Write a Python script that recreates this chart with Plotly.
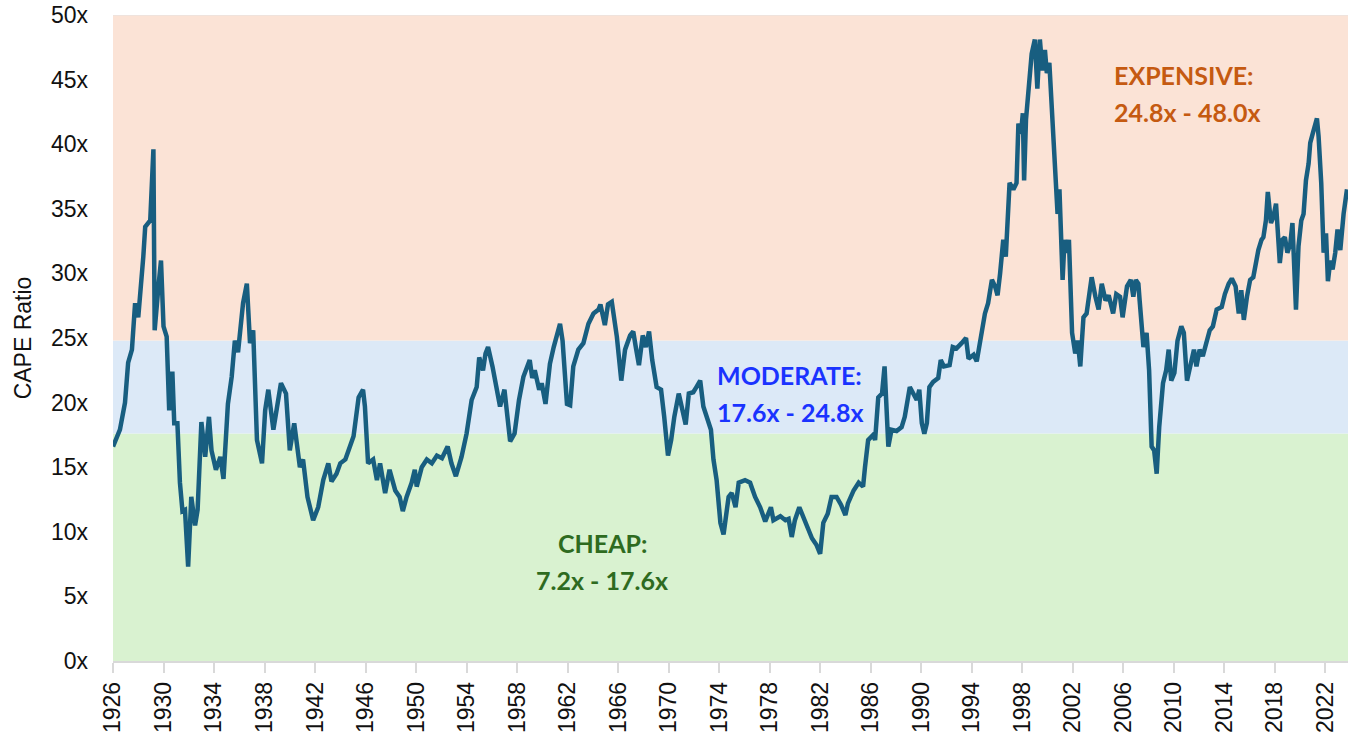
import plotly.graph_objects as go

# ---- data (decimal year, CAPE ratio) ----
years = [
    1926.0, 1926.3, 1926.55, 1926.95, 1927.2, 1927.5, 1927.75, 1928.0, 1928.3, 1928.4,
    1928.55, 1928.95, 1929.2, 1929.3, 1929.6, 1929.8, 1930.0, 1930.25, 1930.45, 1930.7,
    1930.85, 1931.1, 1931.3, 1931.5, 1931.7, 1931.95, 1932.2, 1932.5, 1932.7, 1933.0,
    1933.3, 1933.6, 1933.8, 1934.15, 1934.5, 1934.75, 1935.1, 1935.4, 1935.65, 1935.9,
    1936.3, 1936.6, 1936.85, 1937.1, 1937.4, 1937.8, 1938.05, 1938.3, 1938.7, 1938.95,
    1939.3, 1939.7, 1940.0, 1940.35, 1940.8, 1941.05, 1941.4, 1941.85, 1942.25, 1942.65,
    1943.05, 1943.3, 1943.7, 1944.0, 1944.4, 1944.65, 1945.05, 1945.45, 1945.8, 1945.95,
    1946.2, 1946.6, 1946.9, 1947.15, 1947.55, 1947.9, 1948.35, 1948.7, 1948.95, 1949.25,
    1949.65, 1949.9, 1950.05, 1950.45, 1950.85, 1951.25, 1951.65, 1952.05, 1952.5, 1952.8,
    1953.15, 1953.6, 1954.0, 1954.4, 1954.8, 1955.0, 1955.3, 1955.5, 1955.7, 1956.05,
    1956.3, 1956.65, 1957.0, 1957.45, 1957.8, 1958.15, 1958.5, 1959.0, 1959.2, 1959.4,
    1959.75, 1959.95, 1960.25, 1960.6, 1960.9, 1961.15, 1961.4, 1961.6, 1961.95, 1962.2,
    1962.45, 1962.85, 1963.25, 1963.65, 1964.05, 1964.45, 1964.6, 1964.95, 1965.2, 1965.5,
    1965.9, 1966.25, 1966.55, 1966.95, 1967.2, 1967.4, 1967.65, 1967.95, 1968.2, 1968.45,
    1968.7, 1969.05, 1969.4, 1969.65, 1969.95, 1970.2, 1970.45, 1970.8, 1971.05, 1971.35,
    1971.6, 1971.95, 1972.2, 1972.5, 1972.75, 1973.1, 1973.35, 1973.55, 1973.8, 1974.1,
    1974.35, 1974.75, 1975.0, 1975.3, 1975.55, 1976.05, 1976.45, 1976.85, 1977.25, 1977.65,
    1978.1, 1978.3, 1978.85, 1979.25, 1979.5, 1979.75, 1980.0, 1980.35, 1980.65, 1981.05,
    1981.35, 1981.7, 1982.0, 1982.25, 1982.6, 1982.9, 1983.3, 1983.65, 1984.0, 1984.2,
    1984.65, 1985.05, 1985.4, 1985.55, 1985.8, 1986.2, 1986.35, 1986.6, 1986.9, 1987.1,
    1987.25, 1987.4, 1987.65, 1988.05, 1988.45, 1988.7, 1989.1, 1989.4, 1989.65, 1989.85,
    1990.05, 1990.25, 1990.45, 1990.65, 1990.95, 1991.35, 1991.55, 1991.8, 1992.25, 1992.5,
    1992.8, 1993.2, 1993.55, 1993.75, 1994.15, 1994.4, 1994.7, 1995.05, 1995.3, 1995.6,
    1995.85, 1996.05, 1996.25, 1996.5, 1996.7, 1997.0, 1997.3, 1997.55, 1997.7, 1997.9,
    1998.05, 1998.15, 1998.3, 1998.5, 1998.75, 1999.0, 1999.2, 1999.4, 1999.6, 1999.8,
    1999.95, 2000.15, 2000.35, 2000.6, 2000.8, 2000.95, 2001.2, 2001.35, 2001.55, 2001.7,
    2001.95, 2002.2, 2002.4, 2002.6, 2002.85, 2003.1, 2003.5, 2003.8, 2004.05, 2004.3,
    2004.6, 2004.85, 2005.2, 2005.45, 2005.75, 2005.95, 2006.3, 2006.6, 2006.8, 2007.0,
    2007.2, 2007.3, 2007.6, 2007.85, 2008.05, 2008.25, 2008.45, 2008.65, 2008.85, 2009.15,
    2009.4, 2009.6, 2009.8, 2010.05, 2010.3, 2010.6, 2010.8, 2011.05, 2011.4, 2011.6,
    2011.8, 2012.05, 2012.3, 2012.6, 2012.85, 2013.1, 2013.4, 2013.8, 2014.05, 2014.35,
    2014.6, 2014.9, 2015.15, 2015.35, 2015.55, 2015.8, 2016.05, 2016.3, 2016.45, 2016.7,
    2016.95, 2017.1, 2017.3, 2017.45, 2017.7, 2017.9, 2018.1, 2018.3, 2018.4, 2018.6,
    2018.8, 2019.0, 2019.23, 2019.4, 2019.68, 2019.88, 2020.1, 2020.28, 2020.47, 2020.68,
    2020.81, 2021.0, 2021.15, 2021.34, 2021.47, 2021.68, 2021.87, 2022.06, 2022.21, 2022.4,
    2022.58, 2022.79, 2022.97, 2023.19, 2023.45, 2023.72,
]

cape = [
    16.6, 17.4, 17.9, 20.0, 23.1, 24.1, 27.7, 26.6, 29.5, 31.3,
    33.6, 34.1, 39.6, 25.6, 29.0, 31.0, 25.9, 25.1, 19.4, 22.4,
    18.4, 18.4, 13.8, 11.6, 11.7, 7.3, 12.7, 10.5, 11.7, 18.5,
    15.8, 18.9, 16.3, 14.8, 15.8, 14.1, 19.9, 22.0, 24.8, 23.9,
    27.7, 29.2, 24.6, 25.6, 17.1, 15.3, 19.4, 21.0, 17.9, 19.4,
    21.5, 20.7, 16.3, 18.4, 15.0, 15.6, 12.7, 10.9, 11.9, 14.0,
    15.3, 13.9, 14.5, 15.3, 15.6, 16.3, 17.4, 20.4, 21.0, 19.7,
    15.3, 15.6, 14.0, 15.3, 13.0, 14.8, 13.2, 12.7, 11.6, 12.7,
    13.8, 14.8, 13.5, 15.0, 15.6, 15.3, 15.9, 15.7, 16.6, 15.3,
    14.3, 15.8, 17.6, 20.2, 21.2, 23.5, 22.5, 23.8, 24.3, 22.8,
    21.5, 19.7, 21.0, 17.0, 17.6, 20.2, 22.0, 23.3, 21.9, 22.5,
    21.0, 21.5, 19.9, 23.0, 24.3, 25.1, 26.1, 24.8, 19.9, 19.8,
    22.8, 24.1, 24.6, 26.1, 26.9, 27.2, 27.6, 26.0, 27.6, 27.8,
    25.1, 21.7, 24.1, 25.2, 25.5, 24.3, 22.9, 25.2, 24.3, 25.5,
    23.3, 21.2, 21.0, 18.9, 15.9, 17.1, 18.9, 20.7, 19.7, 18.3,
    20.7, 20.8, 21.2, 21.7, 19.7, 18.5, 17.9, 15.6, 14.0, 10.7,
    9.8, 12.7, 13.0, 11.9, 13.8, 14.0, 13.8, 12.7, 11.9, 10.8,
    11.9, 10.9, 11.2, 10.9, 11.0, 9.6, 10.9, 11.9, 11.2, 10.3,
    9.5, 9.0, 8.3, 10.7, 11.4, 12.7, 12.7, 12.1, 11.3, 12.2,
    13.2, 13.8, 13.5, 15.0, 17.1, 17.5, 17.1, 20.4, 20.7, 22.8,
    18.9, 16.6, 17.9, 17.8, 18.1, 18.9, 21.2, 20.7, 20.2, 21.0,
    18.4, 17.6, 18.4, 21.2, 21.6, 21.9, 23.3, 22.8, 22.9, 24.3,
    24.2, 24.6, 25.0, 23.4, 23.7, 23.2, 24.8, 26.9, 27.7, 29.5,
    29.0, 28.3, 30.0, 32.6, 31.3, 37.0, 36.5, 37.0, 41.6, 40.8,
    42.4, 37.2, 41.9, 44.7, 47.0, 48.1, 44.3, 48.1, 45.7, 47.3,
    45.5, 46.3, 42.4, 38.8, 34.6, 36.5, 29.5, 32.6, 31.6, 32.6,
    25.4, 23.8, 24.8, 22.8, 26.6, 26.9, 29.7, 28.2, 27.2, 29.2,
    27.9, 28.3, 26.9, 28.4, 28.2, 26.6, 29.0, 29.5, 28.2, 29.5,
    29.2, 27.9, 24.3, 25.4, 22.5, 16.6, 16.3, 14.5, 18.1, 21.5,
    22.5, 24.1, 21.7, 22.3, 24.8, 25.9, 25.4, 21.7, 23.3, 24.1,
    22.8, 24.1, 23.6, 24.8, 25.6, 25.9, 27.2, 27.4, 28.4, 29.2,
    29.6, 29.0, 26.9, 28.7, 26.4, 28.2, 29.5, 29.7, 30.5, 31.8,
    32.6, 32.8, 34.1, 36.3, 33.9, 34.4, 35.4, 32.6, 30.8, 32.6,
    32.8, 31.6, 32.3, 33.9, 27.2, 32.1, 34.1, 34.6, 37.2, 38.5,
    40.1, 40.8, 41.4, 42.0, 40.6, 37.0, 31.6, 33.1, 29.4, 31.0,
    30.3, 31.6, 33.4, 31.8, 34.6, 36.5,
]

# valuation bands: (lower, upper)
band_cheap = (0, 17.6)
band_moderate = (17.6, 24.8)
band_expensive = (24.8, 50)

tick_years = list(range(1926, 2023, 4))
tick_labels = [str(y) for y in tick_years]
y_ticks = [0, 5, 10, 15, 20, 25, 30, 35, 40, 45, 50]
y_labels = [f"{v}x" for v in y_ticks]

fig = go.Figure()

fig.add_trace(go.Scatter(
    x=years, y=cape, mode="lines",
    line=dict(color="#185E80", width=4.5),
    showlegend=False, hoverinfo="skip",
))

for (lo, hi), col in [(band_cheap, "#D9F2D0"), (band_moderate, "#DCE9F7"),
                      (band_expensive, "#FBE3D6")]:
    fig.add_shape(type="rect", xref="paper", yref="y", x0=0, x1=1, y0=lo, y1=hi,
                  fillcolor=col, line=dict(width=0), layer="below")

fig.add_shape(type="line", xref="paper", yref="y", x0=0, x1=1, y0=50, y1=50,
              line=dict(color="#E3E3E3", width=1), layer="below")

ann_font = "Lato, 'Noto Sans', sans-serif"
labels = [
    ("EXPENSIVE:", 2005.1, 45.35, "left", "#C55A11"),
    ("24.8x - 48.0x", 2005.1, 42.5, "left", "#C55A11"),
    ("MODERATE:", 1979.6, 22.15, "center", "#1A33FF"),
    ("17.6x - 24.8x", 1979.6, 19.3, "center", "#1A33FF"),
    ("CHEAP:", 1964.75, 9.15, "center", "#2E6B1F"),
    ("7.2x - 17.6x", 1964.75, 6.3, "center", "#2E6B1F"),
]
for txt, ax, ay, anchor, col in labels:
    fig.add_annotation(x=ax, y=ay, xref="x", yref="y", text=f"<b>{txt}</b>",
                       showarrow=False, xanchor=anchor, yanchor="middle",
                       font=dict(family=ann_font, size=25, color=col))

fig.update_layout(
    width=1355, height=746,
    margin=dict(l=113, r=7, t=15, b=85),
    paper_bgcolor="white", plot_bgcolor="white",
    font=dict(family="'Liberation Sans', Arial, sans-serif", size=22, color="#222222"),
    xaxis=dict(
        range=[1926, 2023.8], tickmode="array", tickvals=tick_years, ticktext=tick_labels,
        tickangle=-90, showgrid=False, zeroline=False, automargin=False,
        showline=True, linecolor="#D9D9D9", linewidth=1.5,
        ticks="outside", ticklen=10, tickcolor="#D9D9D9", tickwidth=1.5,
        tickfont=dict(size=23, color="#111111"), ticklabeloverflow="allow",
    ),
    yaxis=dict(
        range=[0, 50], tickmode="array", tickvals=y_ticks, ticktext=y_labels,
        showgrid=False, zeroline=False, showline=False, automargin=False,
        ticklabelstandoff=24, ticklabeloverflow="allow",
        tickfont=dict(size=23, color="#111111"),
        title=dict(text="CAPE Ratio", font=dict(size=23, color="#111111"), standoff=12),
    ),
)

fig.write_html(
    "out.html",
    config={"displayModeBar": False},
    post_script="document.body.style.margin='0';document.body.style.overflow='hidden';",
)
